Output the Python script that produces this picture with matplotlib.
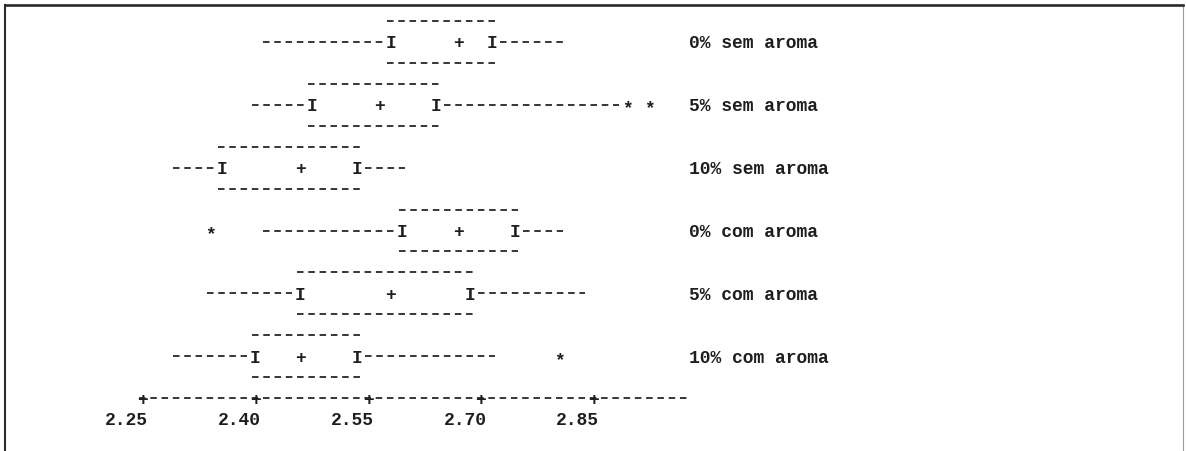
import matplotlib
matplotlib.use("Agg")
import matplotlib.pyplot as plt
from matplotlib.transforms import offset_copy

# ---- data -------------------------------------------------------------
groups = ["0% sem aroma", "5% sem aroma", "10% sem aroma",
          "0% com aroma", "5% com aroma", "10% com aroma"]
lower_whisker = [2.415, 2.400, 2.295, 2.415, 2.340, 2.295]
q1            = [2.580, 2.475, 2.355, 2.595, 2.460, 2.400]
median        = [2.670, 2.565, 2.460, 2.670, 2.580, 2.460]
q3            = [2.715, 2.640, 2.535, 2.745, 2.685, 2.535]
upper_whisker = [2.805, 2.880, 2.595, 2.805, 2.835, 2.715]
outliers      = [[], [2.895, 2.925], [], [2.340], [], [2.805]]

tick_values = [2.25, 2.40, 2.55, 2.70, 2.85]
tick_labels = ["2.25", "2.40", "2.55", "2.70", "2.85"]
axis_end = 2.97          # last character cell of the scale line
cell = 0.015             # width of one character cell on the value scale

# ---- layout -----------------------------------------------------------
W, H, DPI = 1186, 452, 100
fig = plt.figure(figsize=(W / DPI, H / DPI), dpi=DPI, facecolor="white")
plt.rcParams["lines.scale_dashes"] = False

px_left, px_right, px_top = 5, 1183, 6
ax = fig.add_axes([px_left / W, 0, (px_right - px_left) / W, (H - px_top) / H])
ax.set_facecolor("white")

# value scale: 2.25 sits at x=142.7 px, 751.3 px per unit
x0_px, ppu = 142.7, 751.3
ax.set_xlim(2.25 - (x0_px - px_left) / ppu, 2.25 + (px_right - x0_px) / ppu)
# vertical scale in text lines: line 1 at y=22 px, 20.95 px per line
line0_px, line_h = 22.0, 20.95
ax.set_ylim(1 + (H - line0_px) / line_h, 1 + (px_top - line0_px) / line_h)

ax.set_xticks([])
ax.set_yticks([])
ax.spines["bottom"].set_visible(False)
ax.spines["top"].set_linewidth(1.9)
ax.spines["top"].set_color("#2b2b2b")
ax.spines["left"].set_linewidth(1.5)
ax.spines["left"].set_color("#2b2b2b")
ax.spines["right"].set_linewidth(0.8)
ax.spines["right"].set_color("#9a9a9a")

ink = "#1e1e1e"
fs = 13
font = dict(family=["Liberation Mono", "DejaVu Sans Mono"], fontweight="bold",
            fontsize=fs, color=ink)

# dash pattern matched to the character pitch
pitch_px = ax.transData.transform((2.25 + cell, 0))[0] - ax.transData.transform((2.25, 0))[0]
pitch_pt = pitch_px * 72 / DPI
dash = (0, (0.58 * pitch_pt, 0.42 * pitch_pt))
half = 0.29 * cell


def dashes(first, last, y):
    """Row of '-' characters covering the cells first..last."""
    if last < first - 1e-9:
        return
    ax.plot([first - half, last + half], [y, y], color=ink, lw=1.25,
            linestyle=dash, solid_capstyle="butt", dash_capstyle="butt")


# glyphs are placed by their baseline, shifted so they sit on the line centre
glyph_tr = offset_copy(ax.transData, fig=fig, y=-0.30 * fs, units="points")
star_tr = offset_copy(ax.transData, fig=fig, y=-0.42 * fs, units="points")


def glyph(ch, x, y, tr=glyph_tr):
    ax.text(x, y, ch, ha="center", va="baseline", transform=tr, **font)


for i, name in enumerate(groups):
    yc = 2 + 3 * i
    # box edges above and below
    dashes(q1[i], q3[i], yc - 1)
    dashes(q1[i], q3[i], yc + 1)
    # whiskers
    dashes(lower_whisker[i], q1[i] - cell, yc)
    dashes(q3[i] + cell, upper_whisker[i], yc)
    # hinges and median
    glyph("I", q1[i], yc)
    glyph("I", q3[i], yc)
    glyph("+", median[i], yc)
    for v in outliers[i]:
        glyph("*", v, yc, star_tr)
    # group name
    ax.text(2.25 + 48.5 * cell, yc, name, ha="left", va="baseline",
            transform=glyph_tr, **font)

# scale line with '+' at each tick
y_axis = 19
dashes(tick_values[0], axis_end, y_axis)
for v, lab in zip(tick_values, tick_labels):
    glyph("+", v, y_axis)
    ax.text(v + 0.5 * cell, y_axis + 1, lab, ha="right", va="baseline",
            transform=glyph_tr, **font)

fig.savefig("out.png", dpi=DPI, facecolor="white")
